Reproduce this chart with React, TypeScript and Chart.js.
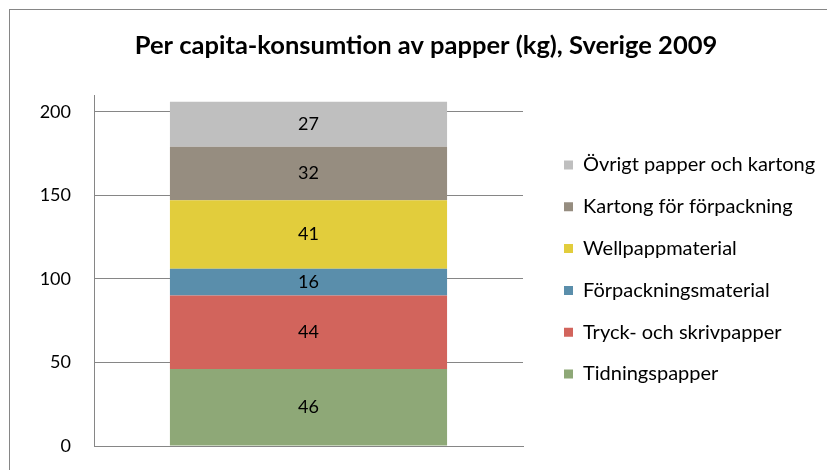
import React, { useEffect, useRef } from "react";
import { Chart, registerables } from "chart.js";

Chart.register(...registerables);

// ---- data ----
const categories = ["2009"];
const seriesNames = [
  "Tidningspapper",
  "Tryck- och skrivpapper",
  "Förpackningsmaterial",
  "Wellpappmaterial",
  "Kartong för förpackning",
  "Övrigt papper och kartong",
];
const tidningspapper = [46];
const tryckOchSkrivpapper = [44];
const forpackningsmaterial = [16];
const wellpappmaterial = [41];
const kartongForForpackning = [32];
const ovrigtPapperOchKartong = [27];
const yTickValues = [0, 50, 100, 150, 200];
const yMin = 0;
const yMax = 210;
const titleText = "Per capita-konsumtion av papper (kg), Sverige 2009";

const seriesColors = ["#8EA877", "#D2645C", "#5A8EAB", "#E2CD3C", "#968D80", "#BFBFBF"];

const FONT = "Lato, 'Open Sans', sans-serif";
const AXIS_GRAY = "#868686";

// layout constants
const W = 827;
const H = 470;
const PLOT_RIGHT = 523;
const LEGEND_BOX_X = 564;
const LEG_PAD = 21.8;
const LEG_FONT = 20;
const LEG_BOX = 9;
const TITLE_CENTER_X = 426;

const valueLabels = {
  id: "valueLabels",
  afterDatasetsDraw(chart: any) {
    const ctx = chart.ctx;
    ctx.save();
    ctx.font = `18px ${FONT}`;
    ctx.fillStyle = "#000";
    ctx.textAlign = "center";
    ctx.textBaseline = "middle";
    chart.data.datasets.forEach((ds: any, di: number) => {
      const meta = chart.getDatasetMeta(di);
      meta.data.forEach((el: any, i: number) => {
        const v = ds.data[i];
        const y = (el.y + el.base) / 2;
        ctx.fillText(String(v), el.x, y);
      });
    });
    ctx.restore();
  },
};

const layoutTweaks = {
  id: "layoutTweaks",
  afterLayout(chart: any) {
    const l = chart.legend;
    if (l) {
      const dx = LEGEND_BOX_X - (l.left + LEG_PAD);
      l.left += dx;
      l.right += dx;
      l.top -= 1;
      l.bottom -= 1;
    }
    const t = chart.titleBlock;
    if (t) {
      const dx = TITLE_CENTER_X - (t.left + t.right) / 2;
      t.left += dx;
      t.right += dx;
    }
  },
};

export default function App() {
  const ref = useRef<HTMLCanvasElement | null>(null);

  useEffect(() => {
    if (!ref.current) return;
    const seriesData = [
      tidningspapper,
      tryckOchSkrivpapper,
      forpackningsmaterial,
      wellpappmaterial,
      kartongForForpackning,
      ovrigtPapperOchKartong,
    ];
    const mctx = document.createElement("canvas").getContext("2d") as CanvasRenderingContext2D;
    mctx.font = `${LEG_FONT}px ${FONT}`;
    const maxTextW = Math.max(...seriesNames.map((n) => mctx.measureText(n).width));
    const legendW = LEG_PAD + LEG_BOX + LEG_FONT / 2 + maxTextW + 10;
    const padRight = Math.max(0, W - PLOT_RIGHT - legendW);

    const chart = new Chart(ref.current, {
      type: "bar",
      data: {
        labels: categories,
        datasets: seriesNames.map((name, i) => ({
          label: name,
          data: seriesData[i],
          backgroundColor: seriesColors[i],
          borderWidth: 0,
          barPercentage: 0.646,
          categoryPercentage: 1,
        })),
      },
      options: {
        animation: false,
        responsive: false,
        devicePixelRatio: 1,
        layout: { padding: { left: 0, right: padRight, top: 0, bottom: 24 } },
        plugins: {
          title: {
            display: true,
            text: titleText,
            color: "#000",
            font: { family: FONT, size: 25.5, weight: "bold", lineHeight: 1.2 },
            padding: { top: 30.7, bottom: 33.7 },
          },
          legend: {
            position: "right",
            reverse: true,
            align: "center",
            fullSize: false,
            maxWidth: 400,
            labels: {
              boxWidth: LEG_BOX,
              boxHeight: LEG_BOX,
              padding: LEG_PAD,
              color: "#000",
              font: { family: FONT, size: LEG_FONT },
            },
          },
          tooltip: { enabled: false },
        },
        scales: {
          x: {
            stacked: true,
            grid: { display: false },
            border: { display: true, color: AXIS_GRAY, width: 1 },
            ticks: { display: false },
            afterFit(scale: any) {
              scale.height = 0;
              scale.paddingLeft = 0;
              scale.paddingRight = 0;
            },
          },
          y: {
            stacked: true,
            min: yMin,
            max: yMax,
            afterBuildTicks(scale: any) {
              scale.ticks = yTickValues.map((v) => ({ value: v }));
            },
            afterFit(scale: any) {
              scale.width = 94;
              scale.paddingTop = 0;
              scale.paddingBottom = 0;
            },
            grid: { color: AXIS_GRAY, lineWidth: 1, drawTicks: false },
            border: { display: true, color: AXIS_GRAY, width: 1 },
            ticks: {
              padding: 23,
              color: "#000",
              font: { family: FONT, size: 18 },
            },
          },
        },
      },
      plugins: [valueLabels, layoutTweaks],
    });
    return () => chart.destroy();
  }, []);

  return (
    <div style={{ position: "absolute", left: 0, top: 0, width: W, height: H, background: "#fff", overflow: "hidden" }}>
      <div
        style={{
          position: "absolute",
          left: 9,
          top: 9,
          width: 900,
          height: 500,
          borderTop: `1px solid ${AXIS_GRAY}`,
          borderLeft: `1px solid ${AXIS_GRAY}`,
        }}
      />
      <canvas ref={ref} width={W} height={H} style={{ position: "absolute", left: 0, top: 0 }} />
    </div>
  );
}
